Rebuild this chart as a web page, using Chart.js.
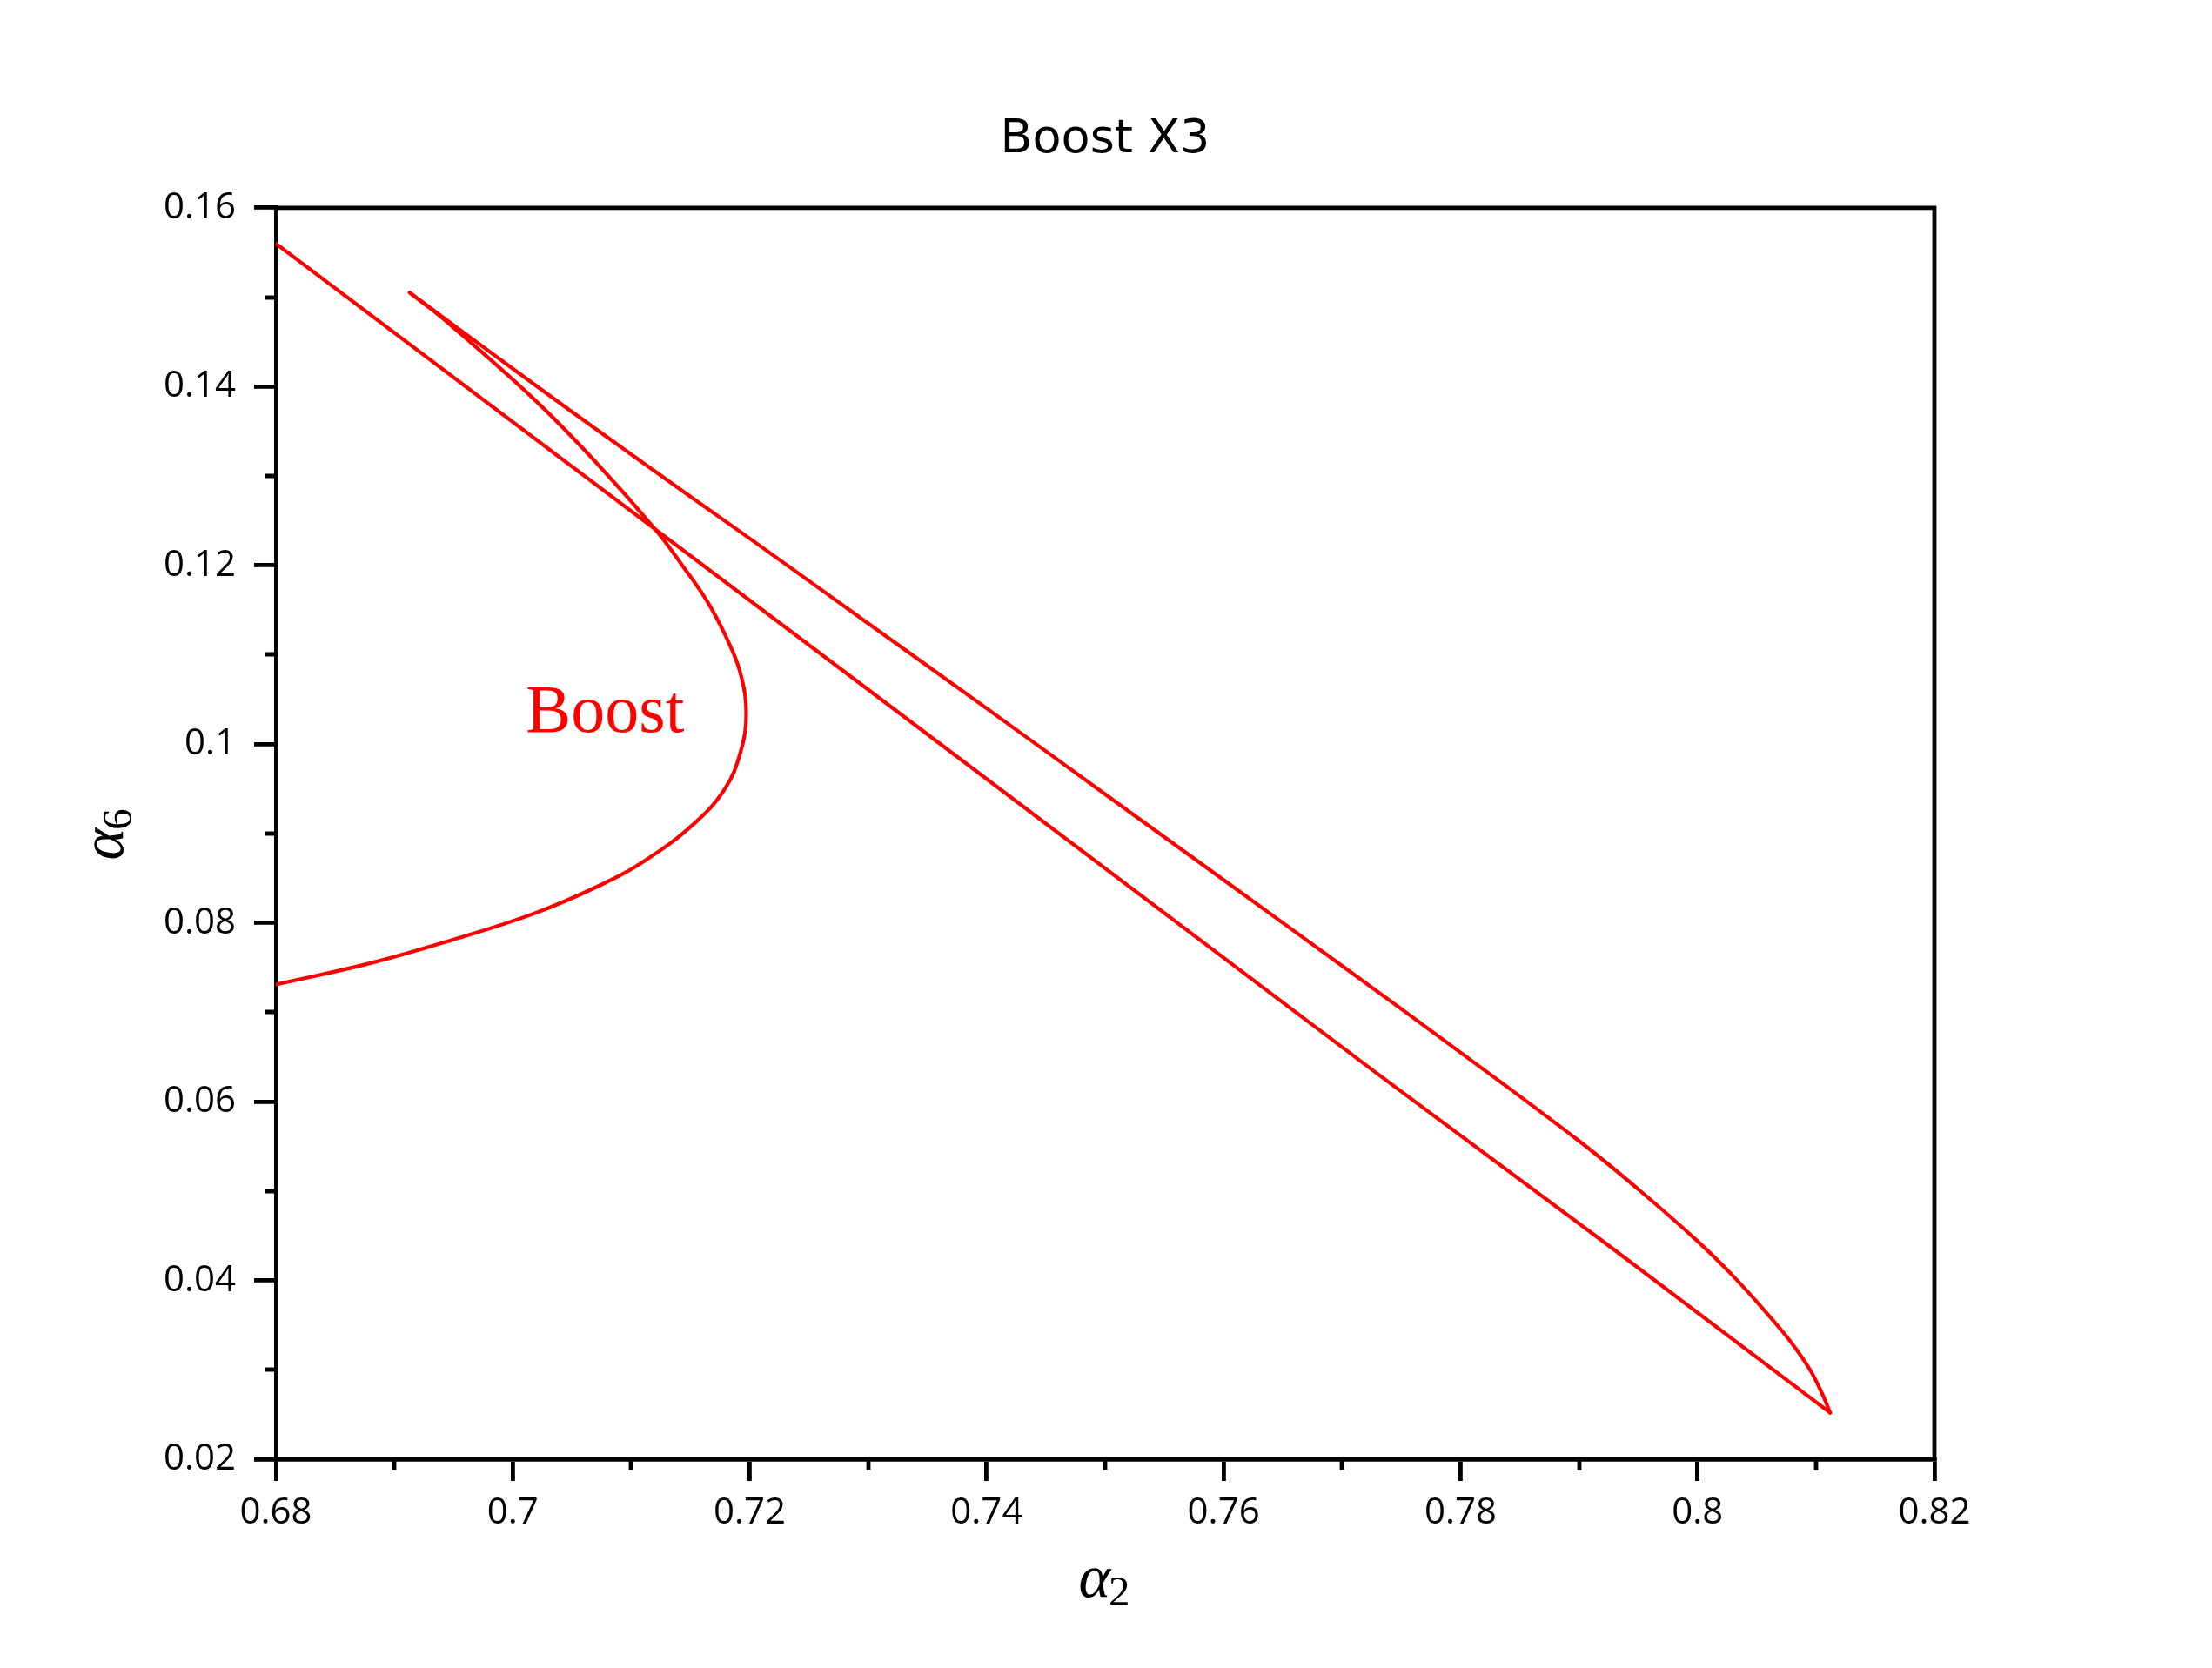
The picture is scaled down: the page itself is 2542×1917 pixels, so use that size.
<!DOCTYPE html>
<html>
<head>
<meta charset="utf-8">
<script src="https://cdn.jsdelivr.net/npm/chart.js@4.4.1/dist/chart.umd.min.js"></script>
<style>
  html, body { margin: 0; padding: 0; background: #fff; }
  #wrap { width: 2542px; height: 1917px; }
</style>
</head>
<body>
<div id="wrap"><canvas id="c" width="2542" height="1917"></canvas></div>
<script>
// ---- data ----
const chartTitle = 'Boost X3';
const xTitleSymbol = 'α';
const xTitleIndex = '2';
const yTitleSymbol = 'α';
const yTitleIndex = '6';

// lower straight branch (α2, α6)
const alpha2Lower = [0.6800, 0.7327, 0.7726, 0.7926, 0.8112];
const alpha6Lower = [0.1560, 0.1034, 0.0635, 0.0438, 0.0252];

// upper branch, from the lower-right tip back to the upper-left tip
const alpha2Upper = [0.8112, 0.8105, 0.8095, 0.8080, 0.8060, 0.8030, 0.8000, 0.7950, 0.7900, 0.7800, 0.7700, 0.7600, 0.7500, 0.7400, 0.7300, 0.7200, 0.7100, 0.7000, 0.6913];
const alpha6Upper = [0.0252, 0.0274, 0.0300, 0.0329, 0.0361, 0.0405, 0.0444, 0.0502, 0.0556, 0.0655, 0.0752, 0.0848, 0.0944, 0.1040, 0.1135, 0.1230, 0.1324, 0.1420, 0.1505];

// loop branch, from the upper-left tip round the bulge to the left edge
const alpha2Loop = [0.6913, 0.6942, 0.7017, 0.7069, 0.7121, 0.7143, 0.7164, 0.7180, 0.7192, 0.7197, 0.7192, 0.7179, 0.7153, 0.7112, 0.7072, 0.7017, 0.6949, 0.6880, 0.6800];
const alpha6Loop = [0.1505, 0.1475, 0.1387, 0.1317, 0.1239, 0.1200, 0.1160, 0.1120, 0.1080, 0.1034, 0.0990, 0.0950, 0.0911, 0.0870, 0.0841, 0.0810, 0.0781, 0.0755, 0.0731];

// axis ticks
const xTicks = [0.68, 0.70, 0.72, 0.74, 0.76, 0.78, 0.80, 0.82];
const xTickLabels = ['0.68', '0.7', '0.72', '0.74', '0.76', '0.78', '0.8', '0.82'];
const xMinor = [0.69, 0.71, 0.73, 0.75, 0.77, 0.79, 0.81];
const yTicks = [0.02, 0.04, 0.06, 0.08, 0.10, 0.12, 0.14, 0.16];
const yTickLabels = ['0.02', '0.04', '0.06', '0.08', '0.1', '0.12', '0.14', '0.16'];
const yMinor = [0.03, 0.05, 0.07, 0.09, 0.11, 0.13, 0.15];

// text annotation
const curveLabel = 'Boost';
const curveLabelAlpha2 = 0.7011;
const curveLabelAlpha6 = 0.1014;

// ---- styling ----
const RED = '#ff0000';
const AXIS_W = 4.8;
const MAJOR_LEN = 25;
const MINOR_LEN = 13;
const CURVE_W = 4.2;
const SYM_FONT = "italic 70px 'Liberation Serif', 'DejaVu Serif', serif";
const IDX_FONT = "49px 'Liberation Serif', 'DejaVu Serif', serif";

function pts(xs, ys) { return xs.map((v, i) => ({ x: v, y: ys[i] })); }

function drawIndexed(ctx, sym, idx) {
  // draws symbol + subscript centred on (0,0) horizontally, baseline at y=0
  ctx.font = SYM_FONT;
  const ws = ctx.measureText(sym).width;
  ctx.font = IDX_FONT;
  const wi = ctx.measureText(idx).width;
  const start = -(ws + wi) / 2;
  ctx.textAlign = 'left';
  ctx.textBaseline = 'alphabetic';
  ctx.font = SYM_FONT;
  ctx.fillText(sym, start, 0);
  ctx.font = IDX_FONT;
  ctx.fillText(idx, start + ws - 2, 10);
}

const decorations = {
  id: 'decorations',
  afterDraw(chart) {
    const { ctx, chartArea: a, scales: { x, y } } = chart;
    ctx.save();
    ctx.strokeStyle = '#000';
    ctx.lineWidth = AXIS_W;
    ctx.lineCap = 'butt';
    ctx.beginPath();
    ctx.moveTo(a.left - AXIS_W / 2, a.top);
    ctx.lineTo(a.right, a.top);
    ctx.moveTo(a.right, a.top - AXIS_W / 2);
    ctx.lineTo(a.right, a.bottom);
    xMinor.forEach(v => {
      const px = Math.round(x.getPixelForValue(v));
      ctx.moveTo(px, a.bottom);
      ctx.lineTo(px, a.bottom + MINOR_LEN);
    });
    yMinor.forEach(v => {
      const py = Math.round(y.getPixelForValue(v));
      ctx.moveTo(a.left, py);
      ctx.lineTo(a.left - MINOR_LEN, py);
    });
    ctx.stroke();

    // curve label
    ctx.fillStyle = RED;
    ctx.font = "78px 'Liberation Serif', 'DejaVu Serif', serif";
    ctx.textAlign = 'left';
    ctx.textBaseline = 'alphabetic';
    ctx.fillText(curveLabel, x.getPixelForValue(curveLabelAlpha2), y.getPixelForValue(curveLabelAlpha6));

    // axis titles
    ctx.fillStyle = '#000';
    ctx.save();
    ctx.translate((a.left + a.right) / 2, a.bottom + 158);
    drawIndexed(ctx, xTitleSymbol, xTitleIndex);
    ctx.restore();
    ctx.save();
    ctx.translate(a.left - 176, (a.top + a.bottom) / 2);
    ctx.rotate(-Math.PI / 2);
    drawIndexed(ctx, yTitleSymbol, yTitleIndex);
    ctx.restore();
    ctx.restore();
  }
};

const tickFont = { family: "'Open Sans', 'DejaVu Sans', sans-serif", size: 42, weight: 'normal' };

const lineStyle = { showLine: true, borderColor: RED, borderWidth: CURVE_W, pointRadius: 0, fill: false, borderCapStyle: 'round', borderJoinStyle: 'round' };

new Chart(document.getElementById('c'), {
  type: 'scatter',
  data: {
    datasets: [
      Object.assign({ data: pts(alpha2Lower, alpha6Lower), tension: 0 }, lineStyle),
      Object.assign({ data: pts(alpha2Upper, alpha6Upper), tension: 0.4 }, lineStyle),
      Object.assign({ data: pts(alpha2Loop, alpha6Loop), tension: 0.4 }, lineStyle)
    ]
  },
  options: {
    responsive: false,
    animation: false,
    devicePixelRatio: 1,
    layout: { padding: { left: 0, right: 319, top: 0, bottom: 0 } },
    plugins: {
      legend: { display: false },
      tooltip: { enabled: false },
      title: {
        display: true,
        text: chartTitle,
        fullSize: false,
        color: '#000',
        font: { family: "'DejaVu Sans', 'Open Sans', sans-serif", size: 54, weight: 'normal' },
        padding: { top: 129, bottom: 45 }
      }
    },
    scales: {
      x: {
        type: 'linear',
        position: 'bottom',
        min: 0.68,
        max: 0.82,
        afterBuildTicks(s) { s.ticks = xTicks.map(v => ({ value: v })); },
        afterFit(s) { s.height = 240; },
        ticks: {
          color: '#000',
          font: tickFont,
          padding: 12,
          maxRotation: 0,
          autoSkip: false,
          callback: (v, i) => xTickLabels[i]
        },
        grid: { display: true, drawOnChartArea: false, drawTicks: true, tickLength: MAJOR_LEN, color: '#000', lineWidth: AXIS_W },
        border: { display: true, color: '#000', width: AXIS_W },
        title: { display: false }
      },
      y: {
        type: 'linear',
        position: 'left',
        min: 0.02,
        max: 0.16,
        afterBuildTicks(s) { s.ticks = yTicks.map(v => ({ value: v })); },
        afterFit(s) { s.width = 317; },
        ticks: {
          color: '#000',
          font: tickFont,
          padding: 21,
          autoSkip: false,
          callback: (v, i) => yTickLabels[i]
        },
        grid: { display: true, drawOnChartArea: false, drawTicks: true, tickLength: MAJOR_LEN, color: '#000', lineWidth: AXIS_W },
        border: { display: true, color: '#000', width: AXIS_W },
        title: { display: false }
      }
    }
  },
  plugins: [decorations]
});
</script>
</body>
</html>
